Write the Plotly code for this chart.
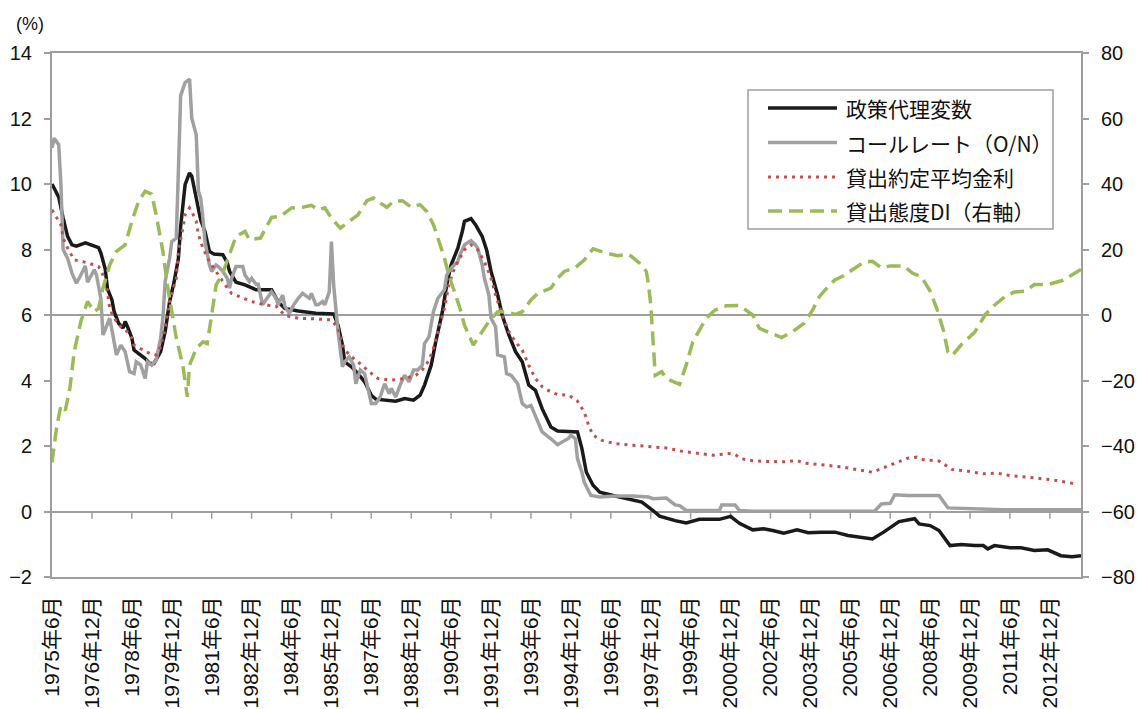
import plotly.graph_objects as go

# ---------------- data ----------------
policy_dates = ["1975-06","1975-09","1975-11","1976-01","1976-03","1976-05","1976-09","1976-12",
    "1977-03","1977-04","1977-06","1977-07","1977-09","1977-10","1977-12","1978-02","1978-03","1978-04",
    "1978-06","1978-07","1978-10","1978-12","1979-02","1979-04","1979-07","1979-09","1979-11","1980-01",
    "1980-03","1980-04","1980-06","1980-08","1980-09","1980-10","1980-12","1981-01","1981-03","1981-05",
    "1981-07","1981-11","1982-01","1982-02","1982-05","1982-09","1983-02","1983-09","1983-12","1984-03",
    "1984-09","1985-05","1986-01","1986-03","1986-05","1986-06","1986-09","1986-12","1987-03","1987-06",
    "1987-08","1987-12","1988-05","1988-09","1989-01","1989-04","1989-06","1989-09","1989-11","1990-02",
    "1990-04","1990-06","1990-09","1990-11","1990-12","1991-03","1991-05","1991-08","1991-10","1991-12",
    "1992-03","1992-05","1992-08","1992-11","1993-02","1993-05","1993-08","1993-11","1994-03","1994-06",
    "1994-12","1995-03","1995-05","1995-07","1995-10","1996-01","1996-07","1997-01","1997-08","1998-01",
    "1998-04","1998-11","1999-04","1999-10","2000-07","2000-12","2001-04","2001-10","2002-03","2002-07",
    "2002-12","2003-06","2003-11","2004-05","2004-11","2005-05","2005-11","2006-04","2006-09","2007-04",
    "2007-11","2008-01","2008-06","2008-10","2009-03","2009-08","2010-02","2010-06","2010-08","2010-11",
    "2011-06","2011-11","2012-05","2012-11","2013-05","2013-10","2014-02"]
policy_vals = [10.0,9.6,8.96,8.4,8.14,8.1,8.2,8.14,
    8.06,7.9,7.4,6.8,6.46,6.1,5.75,5.6,5.8,5.65,
    5.3,4.93,4.78,4.67,4.52,4.52,4.88,5.49,6.4,7.0,
    7.73,8.7,9.98,10.34,10.24,9.9,9.27,8.9,8.55,7.94,
    7.86,7.84,7.6,7.33,7.0,6.92,6.77,6.77,6.4,6.2,
    6.12,6.05,6.03,5.69,5.08,4.57,4.42,4.21,3.96,3.55,
    3.43,3.4,3.37,3.45,3.4,3.55,3.86,4.47,5.18,6.1,
    6.92,7.53,8.04,8.55,8.86,8.94,8.76,8.4,7.99,7.33,
    6.61,6.0,5.39,4.88,4.57,3.86,3.7,3.14,2.58,2.46,
    2.43,2.43,1.92,1.2,0.8,0.59,0.49,0.39,0.29,0.03,
    -0.14,-0.28,-0.35,-0.24,-0.24,-0.15,-0.36,-0.56,-0.53,-0.58,
    -0.66,-0.56,-0.65,-0.63,-0.63,-0.73,-0.79,-0.84,-0.63,-0.31,
    -0.22,-0.38,-0.43,-0.58,-1.04,-1.01,-1.04,-1.04,-1.14,-1.04,
    -1.11,-1.11,-1.19,-1.17,-1.35,-1.38,-1.35]

call_dates = ["1975-06","1975-07","1975-09","1975-10","1975-11","1976-01","1976-03","1976-05","1976-07",
    "1976-09","1976-10","1977-01","1977-02","1977-04","1977-05","1977-07","1977-08","1977-10","1977-11",
    "1978-01","1978-03","1978-05","1978-07","1978-08","1978-10","1978-12","1979-01","1979-03","1979-05",
    "1979-07","1979-08","1979-09","1979-11","1979-12","1980-02","1980-03","1980-04","1980-06","1980-08",
    "1980-09","1980-11","1980-12","1981-01","1981-02","1981-03","1981-05","1981-06","1981-08","1981-09",
    "1981-11","1982-01","1982-02","1982-03","1982-05","1982-08","1982-09","1982-11","1982-12","1983-02",
    "1983-03","1983-05","1983-07","1983-09","1983-11","1983-12","1984-02","1984-03","1984-05","1984-07",
    "1984-09","1984-11","1985-02","1985-03","1985-05","1985-06","1985-08","1985-09","1985-11","1985-12",
    "1986-01","1986-03","1986-05","1986-06","1986-08","1986-10","1986-11","1987-01","1987-03","1987-04",
    "1987-06","1987-08","1987-10","1987-12","1988-02","1988-03","1988-05","1988-07","1988-09","1988-11",
    "1989-01","1989-03","1989-05","1989-06","1989-08","1989-10","1989-12","1990-03","1990-04","1990-06",
    "1990-09","1990-10","1990-12","1991-01","1991-03","1991-05","1991-06","1991-08","1991-09","1991-11",
    "1991-12","1992-02","1992-03","1992-06","1992-07","1992-09","1992-12","1993-02","1993-04","1993-06",
    "1993-09","1993-11","1994-03","1994-06","1994-11","1994-12","1995-02","1995-03","1995-05","1995-06",
    "1995-09","1996-01","1996-08","1997-04","1997-11","1998-01","1998-07","1998-10","1998-11","1999-01",
    "1999-04","1999-10","2000-07","2000-08","2001-02","2001-04","2001-10","2006-05","2006-08","2006-12",
    "2007-02","2007-08","2008-05","2008-10","2009-02","2009-12","2011-03","2014-02"]
call_vals = [11.1,11.4,11.2,10.0,8.0,7.73,7.28,6.97,7.22,
    7.5,7.0,7.38,7.22,6.51,5.39,5.69,5.9,5.18,4.78,
    5.08,4.88,4.27,4.21,4.57,4.47,4.06,4.57,4.47,4.62,
    5.29,5.9,7.02,7.73,8.24,8.35,10.4,12.7,13.1,13.2,
    12.0,11.5,9.78,9.57,8.96,8.24,7.53,7.33,7.53,7.48,
    7.33,7.12,6.82,7.12,7.48,7.48,7.22,7.02,7.12,6.94,
    6.94,6.31,6.51,6.71,6.51,6.31,6.61,6.27,6.05,6.31,
    6.51,6.66,6.51,6.66,6.31,6.31,6.41,6.31,6.71,8.24,
    6.9,5.49,4.42,4.57,4.72,4.47,3.9,4.32,4.21,3.86,
    3.3,3.3,3.5,3.9,3.6,3.76,3.5,3.86,4.16,3.96,
    4.32,4.32,4.47,5.13,5.34,6.1,6.51,6.77,7.22,7.43,
    7.63,7.84,8.14,8.19,8.27,8.14,8.04,7.53,7.12,6.61,
    5.9,5.64,4.78,4.72,4.21,4.16,3.9,3.3,3.19,3.24,
    2.73,2.43,2.22,2.04,2.24,2.33,2.22,1.61,1.2,0.9,
    0.49,0.44,0.47,0.47,0.44,0.39,0.41,0.27,0.2,0.18,
    0.03,0.03,0.03,0.2,0.2,0.03,0.01,0.01,0.23,0.25,
    0.51,0.49,0.5,0.49,0.11,0.08,0.05,0.05]

loan_dates = ["1975-06","1975-10","1975-11","1976-01","1976-04","1976-08","1976-12","1977-03","1977-05",
    "1977-07","1977-08","1977-10","1978-01","1978-04","1978-06","1978-07","1978-11","1979-02","1979-05",
    "1979-07","1979-09","1979-11","1980-02","1980-03","1980-05","1980-06","1980-08","1980-09","1980-11",
    "1980-12","1981-02","1981-05","1981-07","1981-09","1981-12","1982-03","1982-08","1982-12","1983-06",
    "1983-11","1984-03","1984-09","1985-05","1985-12","1986-03","1986-05","1986-08","1986-12","1987-05",
    "1987-09","1988-03","1988-09","1989-02","1989-05","1989-08","1989-10","1989-12","1990-03","1990-05",
    "1990-07","1990-09","1990-12","1991-03","1991-06","1991-09","1991-12","1992-02","1992-05","1992-08",
    "1992-11","1993-02","1993-05","1993-08","1993-11","1994-03","1994-06","1994-11","1995-03","1995-06",
    "1995-08","1995-10","1996-02","1996-08","1997-04","1998-01","1998-07","1999-02","1999-10","2000-04",
    "2000-11","2001-02","2001-05","2001-10","2002-04","2003-01","2003-06","2003-09","2004-05","2005-02",
    "2005-09","2006-04","2006-08","2007-02","2007-08","2007-12","2008-03","2008-10","2009-04","2009-11",
    "2010-06","2010-12","2011-06","2012-02","2012-09","2013-03","2013-11"]
loan_vals = [9.21,8.76,8.35,8.04,7.68,7.63,7.55,7.48,7.22,
    6.71,6.2,5.9,5.64,5.49,5.29,5.08,4.93,4.83,4.78,
    5.03,5.59,6.41,7.12,7.94,8.65,9.06,9.27,9.16,8.86,
    8.45,8.04,7.63,7.43,7.22,6.92,6.66,6.51,6.41,6.31,
    6.27,5.99,5.9,5.88,5.85,5.59,5.08,4.78,4.57,4.27,
    4.06,4.01,4.06,4.16,4.32,4.62,4.98,5.49,6.2,6.92,
    7.33,7.63,7.99,8.14,7.99,7.63,7.12,6.61,6.0,5.49,
    5.18,4.93,4.47,4.06,3.81,3.65,3.57,3.55,3.37,3.04,
    2.63,2.33,2.17,2.07,2.02,1.97,1.94,1.84,1.77,1.72,
    1.77,1.74,1.61,1.55,1.53,1.52,1.56,1.48,1.43,1.36,
    1.28,1.2,1.31,1.48,1.63,1.66,1.58,1.54,1.28,1.23,
    1.15,1.17,1.1,1.05,1.0,0.95,0.85]

di_dates = ["1975-06","1975-08","1975-10","1975-12","1976-02","1976-04","1976-07","1976-10","1977-01",
    "1977-03","1977-05","1977-08","1977-11","1978-03","1978-06","1978-09","1978-12","1979-03","1979-05",
    "1979-08","1979-10","1979-12","1980-02","1980-05","1980-07","1980-08","1980-11","1981-02","1981-04",
    "1981-06","1981-08","1981-11","1982-02","1982-05","1982-09","1982-11","1983-04","1983-07","1983-09",
    "1984-01","1984-06","1984-11","1985-03","1985-06","1985-09","1985-12","1986-04","1986-08","1986-12",
    "1987-04","1987-07","1987-10","1988-01","1988-04","1988-08","1988-12","1989-04","1989-07","1989-10",
    "1989-12","1990-03","1990-05","1990-07","1990-10","1990-12","1991-03","1991-04","1991-07","1991-11",
    "1992-03","1992-06","1992-11","1993-02","1993-06","1993-09","1994-03","1994-06","1994-09","1995-02",
    "1995-06","1995-10","1996-04","1996-09","1997-02","1997-07","1997-10","1997-11","1997-12","1998-01",
    "1998-02","1998-05","1998-07","1999-01","1999-04","1999-07","1999-10","2000-01","2000-05","2000-10",
    "2001-04","2001-07","2001-10","2002-01","2002-04","2002-08","2002-11","2003-04","2003-09","2004-01",
    "2004-04","2004-08","2004-11","2005-03","2005-08","2005-12","2006-04","2006-08","2006-12","2007-06",
    "2007-10","2008-02","2008-06","2008-09","2008-12","2009-02","2009-04","2009-08","2010-02","2010-07",
    "2010-11","2011-04","2011-08","2012-01","2012-05","2012-11","2013-06","2013-10","2014-02"]
di_vals = [-45,-34.7,-27.6,-29.1,-22.4,-11.2,-2.0,4.1,1.0,
    2.0,8.2,15.3,19.4,21.4,28.6,34.7,37.8,36.9,30.6,
    19.4,9.2,1.0,-7.1,-15.3,-25,-15.3,-10.2,-8.2,-8.7,
    0,9.2,12.8,18.4,24,25.5,23,23.5,27,29.8,
    30.1,32.7,32.9,33.5,32.1,32.7,29.6,26.5,28.6,30.6,
    34.9,35.7,34.2,32.9,34.7,34.9,32.9,33.7,31.6,27.6,
    23.5,17.3,12.2,8.2,2.0,-3.1,-7.7,-9.2,-6.1,-2.0,
    1.0,1.0,0.2,1.0,4.6,6.6,8.2,11.2,13.3,14.5,
    16.8,20.2,18.9,18.1,18.6,15.8,13.3,9.2,3.1,-9.2,
    -18.4,-17.3,-19.4,-21.2,-15.3,-8.2,-4.6,-1.0,1.5,2.8,
    2.9,1.5,0,-4.1,-4.9,-6.1,-6.9,-5.1,-2.6,1.5,
    5.6,8.7,10.7,12.0,14.4,16.1,16.4,14.4,15.0,15.0,
    12.8,11.7,7.3,1.9,-4.7,-11.3,-12.4,-9.1,-5.3,0.2,
    3.0,5.7,7.0,7.3,9.3,9.3,10.6,12.3,13.9]

series_names = ["政策代理変数", "コールレート（O/N）", "貸出約定平均金利", "貸出態度DI（右軸）"]

tick_dates = ["1975-06","1976-12","1978-06","1979-12","1981-06","1982-12","1984-06","1985-12",
    "1987-06","1988-12","1990-06","1991-12","1993-06","1994-12","1996-06","1997-12","1999-06",
    "2000-12","2002-06","2003-12","2005-06","2006-12","2008-06","2009-12","2011-06","2012-12"]
tick_labels = ["1975年6月","1976年12月","1978年6月","1979年12月","1981年6月","1982年12月","1984年6月",
    "1985年12月","1987年6月","1988年12月","1990年6月","1991年12月","1993年6月","1994年12月","1996年6月",
    "1997年12月","1999年6月","2000年12月","2002年6月","2003年12月","2005年6月","2006年12月","2008年6月",
    "2009年12月","2011年6月","2012年12月"]

# ---------------- styling / layout ----------------
W, H = 1137, 709
L, R, T, B = 52, 1081, 53, 577
FONT = "Liberation Sans, Arial, 'Noto Sans CJK JP', sans-serif"
JFONT = "'Noto Sans CJK JP', sans-serif"
AXIS_GRAY = "#9E9E9E"

styles = [
    dict(color="#1A1A1A", width=3.5, dash="solid"),
    dict(color="#A0A0A0", width=3.5, dash="solid"),
    dict(color="#C0504D", width=3, dash="3px,5px"),
    dict(color="#9BBB59", width=3.5, dash="14px,7px"),
]

def px_x(px):
    return (px - L) / (R - L)

def px_y(py):
    return (B - py) / (B - T)

fig = go.Figure()
fig.add_trace(go.Scatter(x=policy_dates, y=policy_vals, mode="lines", name=series_names[0],
                         line=styles[0], yaxis="y"))
fig.add_trace(go.Scatter(x=call_dates, y=call_vals, mode="lines", name=series_names[1],
                         line=styles[1], yaxis="y"))
fig.add_trace(go.Scatter(x=loan_dates, y=loan_vals, mode="lines", name=series_names[2],
                         line=styles[2], yaxis="y"))
fig.add_trace(go.Scatter(x=di_dates, y=di_vals, mode="lines", name=series_names[3],
                         line=styles[3], yaxis="y2"))

shapes = []
# small tick marks hanging from the zero line of the left axis
for d in tick_dates[1:]:
    shapes.append(dict(type="line", xref="x", yref="y", x0=d, x1=d, y0=0, y1=-0.22,
                       line=dict(color=AXIS_GRAY, width=1.5), layer="below"))

# manual legend
shapes.append(dict(type="rect", xref="paper", yref="paper",
                   x0=px_x(748), x1=px_x(1053), y0=px_y(229), y1=px_y(90),
                   line=dict(color=AXIS_GRAY, width=1.5), fillcolor="white", layer="above"))
annotations = []
rows = [108, 142.5, 177, 211]
for name, st, ry in zip(series_names, styles, rows):
    shapes.append(dict(type="line", xref="paper", yref="paper",
                       x0=px_x(768), x1=px_x(837), y0=px_y(ry), y1=px_y(ry),
                       line=dict(color=st["color"], width=st["width"], dash=st["dash"]),
                       layer="above"))
    annotations.append(dict(xref="paper", yref="paper", x=px_x(844), y=px_y(ry),
                            text=name, showarrow=False, xanchor="left", yanchor="middle",
                            font=dict(family=JFONT, size=21, color="#111")))

annotations.append(dict(xref="paper", yref="paper", x=px_x(30), y=px_y(24), text="(%)",
                        showarrow=False, xanchor="center", yanchor="middle",
                        font=dict(family=FONT, size=18, color="#111")))

fig.update_layout(
    width=W, height=H,
    margin=dict(l=L, r=W - R, t=T, b=H - B, pad=0, autoexpand=False),
    paper_bgcolor="white", plot_bgcolor="white",
    showlegend=False,
    font=dict(family=FONT, size=20, color="#111"),
    xaxis=dict(
        type="date", automargin=False,
        range=["1975-06-01", "2014-02-01"],
        tickvals=tick_dates, ticktext=tick_labels,
        tickangle=-90, ticks="",
        ticklabelstandoff=9,
        tickfont=dict(family=FONT, size=21, color="#111"),
        showgrid=False, zeroline=False,
        showline=True, linecolor=AXIS_GRAY, linewidth=2, mirror=True,
    ),
    yaxis=dict(
        automargin=False,
        range=[-2, 14], dtick=2, tick0=0,
        ticks="outside", ticklen=6, tickcolor=AXIS_GRAY, tickwidth=1.5,
        ticklabelstandoff=8,
        showgrid=False,
        zeroline=True, zerolinecolor=AXIS_GRAY, zerolinewidth=1.5,
        showline=True, linecolor=AXIS_GRAY, linewidth=2,
        tickfont=dict(family=FONT, size=20, color="#111"),
    ),
    yaxis2=dict(
        automargin=False,
        range=[-80, 80], dtick=20, tick0=0,
        overlaying="y", side="right",
        ticks="outside", ticklen=6, tickcolor=AXIS_GRAY, tickwidth=1.5,
        ticklabelstandoff=8,
        showgrid=False,
        zeroline=True, zerolinecolor=AXIS_GRAY, zerolinewidth=1.5,
        showline=True, linecolor=AXIS_GRAY, linewidth=2,
        tickfont=dict(family=FONT, size=20, color="#111"),
    ),
    shapes=shapes,
    annotations=annotations,
)

fig.write_html("out.html", config={"displayModeBar": False},
               post_script="document.body.style.margin='0';document.body.style.padding='0';")
